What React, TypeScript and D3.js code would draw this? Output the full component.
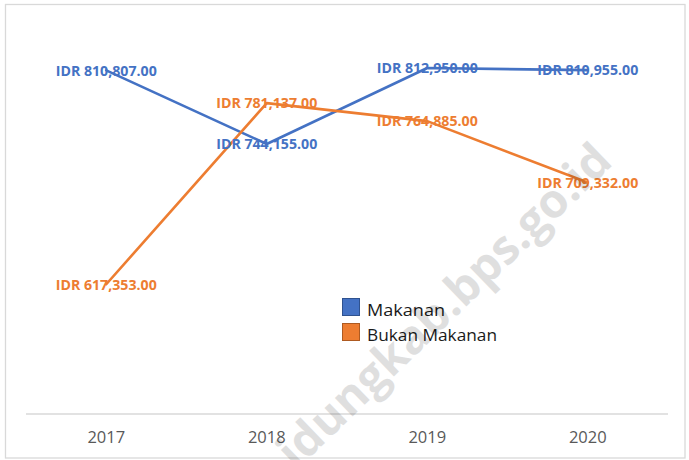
import React from "react";
import * as d3 from "d3";

const years = ["2017", "2018", "2019", "2020"];
const makanan = [810807, 744155, 812950, 810955];
const bukanMakanan = [617353, 781137, 764885, 709332];
const seriesNames = ["Makanan", "Bukan Makanan"];
const seriesColors = ["#4472C4", "#ED7D31"];
const legendStroke = ["#2F528F", "#AE5A21"];

const W = 689;
const H = 460;

const fmt = (v: number) => "IDR " + d3.format(",.2f")(v);

export default function App() {
  const x = d3.scaleBand<string>().domain(years).range([26, 668]).padding(0);
  const cx = (d: string) => (x(d) as number) + x.bandwidth() / 2;
  const y = d3.scaleLinear().domain([500000, 850000]).range([414, 27]);
  const series = [makanan, bukanMakanan];
  const line = d3
    .line<number>()
    .x((_, i) => cx(years[i]))
    .y((v) => y(v));

  return (
    <svg
      width={W}
      height={H}
      style={{ position: "absolute", left: 0, top: 0, background: "#fff" }}
    >
      <rect x={0} y={0} width={W} height={H} fill="#fff" />
      <rect x={5.5} y={4.5} width={679.5} height={453.5} fill="none" stroke="#d9d9d9" strokeWidth={1.3} />
      <line x1={26} x2={668} y1={414} y2={414} stroke="#d9d9d9" strokeWidth={1.3} />
      {years.map((yr) => (
        <text
          key={yr}
          x={cx(yr)}
          y={443}
          textAnchor="middle"
          fontFamily="Open Sans"
          fontSize={16.5}
          fill="#595959"
        >
          {yr}
        </text>
      ))}
      {series.map((s, si) => (
        <path
          key={si}
          d={line(s) as string}
          fill="none"
          stroke={seriesColors[si]}
          strokeWidth={2.6}
          strokeLinejoin="round"
          strokeLinecap="round"
        />
      ))}
      {series.map((s, si) =>
        s.map((v, i) => (
          <text
            key={si + "-" + i}
            x={cx(years[i])}
            y={y(v) + 5.3}
            textAnchor="middle"
            fontFamily="Open Sans"
            fontWeight={700}
            fontSize={14.5}
            fill={seriesColors[si]}
            textLength={101}
            lengthAdjust="spacingAndGlyphs"
          >
            {fmt(v)}
          </text>
        ))
      )}
      {seriesNames.map((n, i) => (
        <g key={n}>
          <rect
            x={342.5}
            y={298.5 + i * 25}
            width={17}
            height={17}
            fill={seriesColors[i]}
            stroke={legendStroke[i]}
            strokeWidth={1}
          />
          <text
            x={367}
            y={316 + i * 25}
            fontFamily="Open Sans"
            fontSize={17}
            fill="#1a1a1a"
            textLength={i === 0 ? 78 : 130}
            lengthAdjust="spacingAndGlyphs"
          >
            {n}
          </text>
        </g>
      ))}
      <text
        transform="translate(296,471) rotate(-44)"
        fontFamily="Open Sans"
        fontWeight={700}
        fontSize={47}
        fill="#000"
        opacity={0.12}
      >
        idungkab.bps.go.id
      </text>
    </svg>
  );
}
